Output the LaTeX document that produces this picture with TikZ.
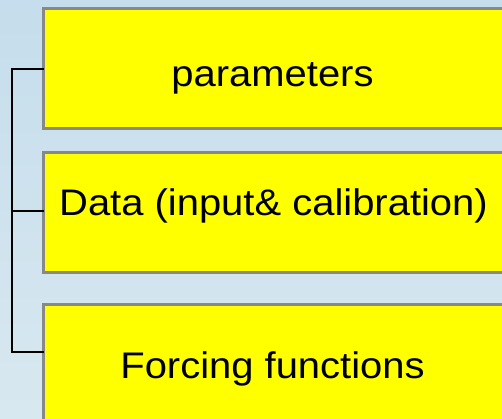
\documentclass[tikz,border=0pt]{standalone}
\usepackage{fontspec}
\setmainfont{Liberation Sans}
\usetikzlibrary{calc}
\definecolor{bgtop}{RGB}{197,221,236}
\definecolor{bgbot}{RGB}{216,232,240}
\definecolor{boxyellow}{RGB}{255,255,0}
\definecolor{boxborder}{RGB}{136,136,136}
\tikzset{
  ybox/.style={draw=boxborder, line width=3pt, fill=boxyellow, rectangle, inner sep=0pt, outer sep=0pt, anchor=north west, minimum width=500pt},
  ylabel/.style={anchor=base, inner sep=0pt, font=\fontsize{37}{40}\selectfont},
  conn/.style={draw=black, line width=2pt}
}
\begin{document}
\begin{tikzpicture}[x=1pt,y=-1pt]
\useasboundingbox (0,0) rectangle (502,419);
\clip (0,0) rectangle (502,419);
\shade[top color=bgtop, bottom color=bgbot] (0,0) rectangle (502,419);
\node[ybox, minimum height=119.7pt] (b1) at (43.5,8.8) {};
\node[ybox, minimum height=119.5pt] (b2) at (43.5,153) {};
\node[ybox, minimum height=120pt] (b3) at (43.5,304.5) {};
\node[ylabel] (t1) at (272.5,87) {\scalebox{1.08}[1]{parameters}};
\node[ylabel] (t2) at (273.5,215) {\scalebox{1.08}[1]{Data (input\& calibration)}};
\node[ylabel] (t3) at (272.5,378) {\scalebox{1.08}[1]{Forcing functions}};
\coordinate (s1) at (11.5,69);
\coordinate (s2) at (11.5,211);
\coordinate (s3) at (11.5,352);
\draw[conn] (b1.west |- s1) -- (s1) -- (s3) -- (b3.west |- s3);
\draw[conn] (s2) -- (b2.west |- s2);
\end{tikzpicture}
\end{document}
